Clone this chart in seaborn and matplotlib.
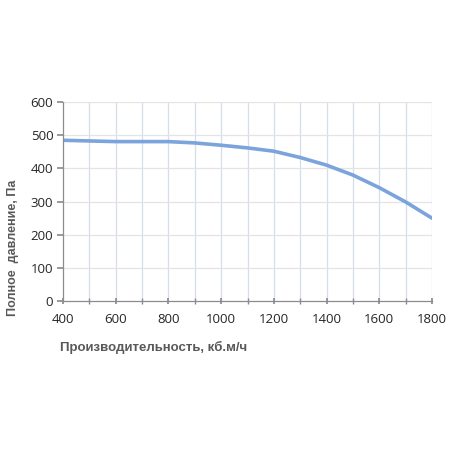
import matplotlib
matplotlib.use("Agg")
import numpy as np
import pandas as pd
import matplotlib.pyplot as plt
import seaborn as sns

# Fan curve data
flow = [400, 500, 600, 700, 800, 900, 1000, 1100, 1200, 1300, 1400, 1500, 1600, 1700, 1800]
pressure = [485, 483, 481, 481, 481, 477, 470, 462, 452, 433, 410, 380, 342, 299, 250]
x_ticks = [400, 600, 800, 1000, 1200, 1400, 1600, 1800]
y_ticks = [0, 100, 200, 300, 400, 500, 600]

sns.set_theme(style="white")
plt.rcParams['font.family'] = ['Open Sans', 'DejaVu Sans']

df = pd.DataFrame({'flow': flow, 'pressure': pressure})

fig = plt.figure(figsize=(4.5, 4.5), dpi=100)
ax = fig.add_axes([0.14, 0.331, 0.82, 0.442])

sns.lineplot(data=df, x='flow', y='pressure', ax=ax, color='#7ba3dc', linewidth=2.6)

ax.set_xlim(400, 1800)
ax.set_ylim(0, 600)
ax.set_xticks(x_ticks)
ax.set_xticks(range(400, 1801, 100), minor=True)
ax.set_yticks(y_ticks)

# grid: vertical every 100, horizontal every 100
for xv in range(500, 1801, 100):
    ax.axvline(xv, color='#d5deea', linewidth=0.9, zorder=0)
for yv in range(100, 601, 100):
    ax.axhline(yv, color='#e4e4e4', linewidth=0.9, zorder=0)

for s in ['top', 'right']:
    ax.spines[s].set_visible(False)
for s in ['left', 'bottom']:
    ax.spines[s].set_color('#8c8c8c')
    ax.spines[s].set_linewidth(0.9)

ax.tick_params(axis='x', which='both', bottom=True, direction='inout', length=5,
               color='#8c8c8c', labelsize=9.5, labelcolor='#262626', pad=6)
ax.tick_params(axis='y', which='both', left=True, direction='out', length=4,
               color='#8c8c8c', labelsize=9.5, labelcolor='#262626', pad=3)

lab_font = dict(fontsize=9.5, fontweight='bold', color='#595959',
                family=['Liberation Sans', 'DejaVu Sans'])
ax.set_xlabel('Производительность, кб.м/ч', **lab_font)
ax.set_ylabel('Полное  давление, Па', fontsize=9, fontweight='bold', color='#595959',
              family=['Liberation Sans', 'DejaVu Sans'])
ax.xaxis.set_label_coords(0.245, -0.2)
ax.yaxis.set_label_coords(-0.118, 0.27)

fig.savefig('out.png', dpi=100, facecolor='white')
